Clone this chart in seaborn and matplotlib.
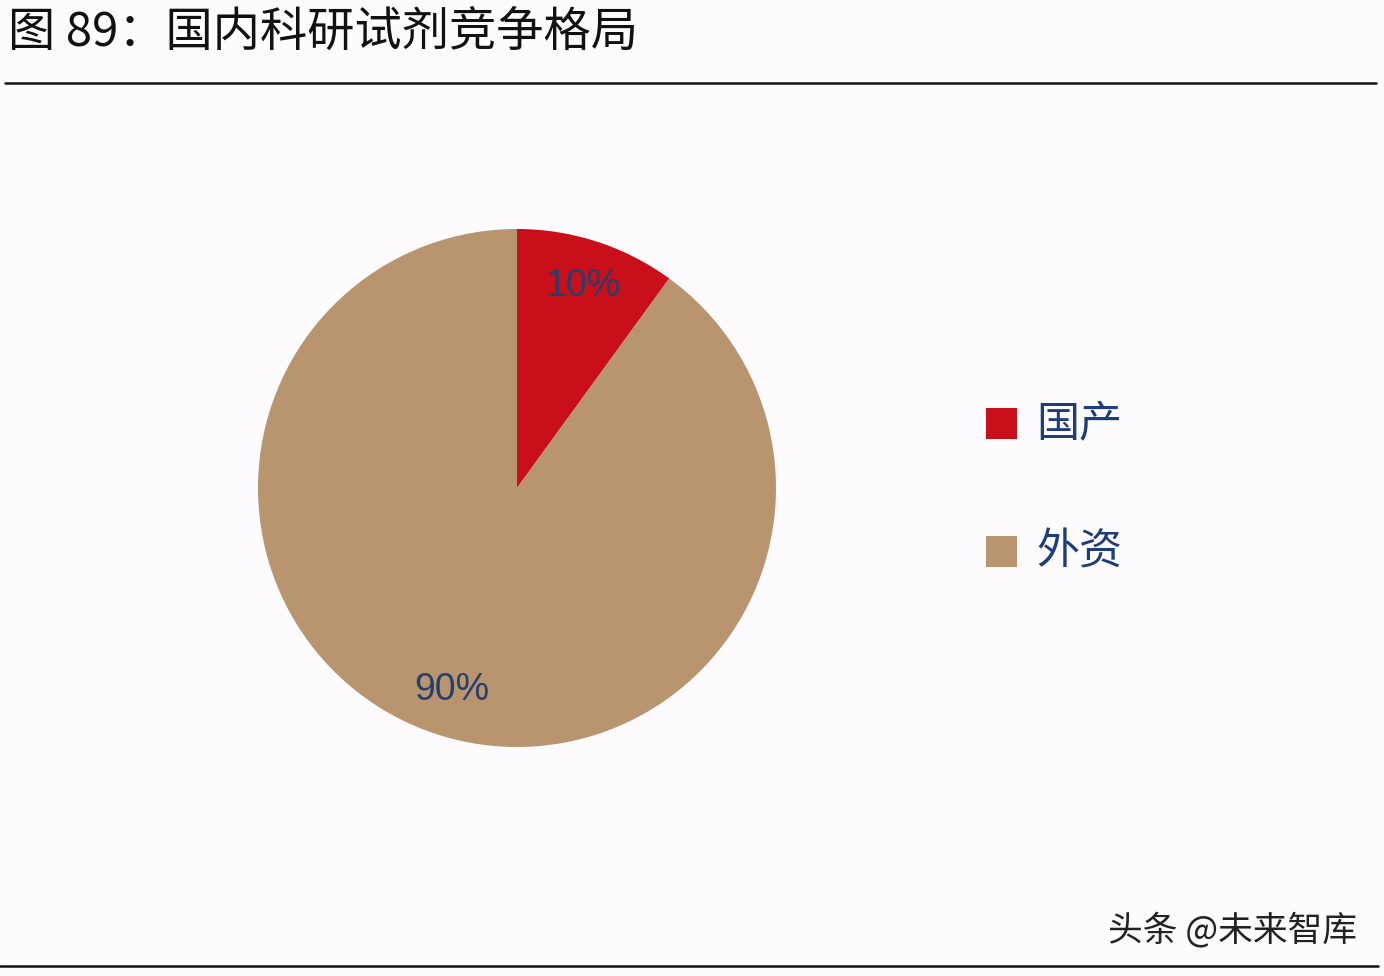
import matplotlib
matplotlib.use("Agg")
import matplotlib.pyplot as plt
import seaborn as sns
from matplotlib.patches import Rectangle
from matplotlib.lines import Line2D

categories = ["国产", "外资"]
shares = [10, 90]
title_text = "图 89：国内科研试剂竞争格局"
watermark = "头条 @未来智库"

sns.set_theme(style="white")
plt.rcParams['font.family'] = ['Noto Sans CJK SC', 'DejaVu Sans']

colors = ["#C80F1A", "#B8956F"]
bg = "#FDFBFD"
W, H = 1384, 976
fig = plt.figure(figsize=(W / 100, H / 100), dpi=100, facecolor=bg)
ax = fig.add_axes([0, 0, 1, 1])
ax.set_facecolor(bg)

wedges, texts, autotexts = ax.pie(
    shares, colors=colors, startangle=90, counterclock=False,
    center=(517, H - 488), radius=259, frame=True,
    autopct=lambda p: f"{p:.0f}%", pctdistance=0.82,
    textprops=dict(fontsize=27, color="#24406E", family="Liberation Sans"),
    wedgeprops=dict(linewidth=0),
)
ax.set_xlim(0, W)
ax.set_ylim(0, H)
ax.set_aspect("equal")
ax.axis("off")

# title and rules
ax.text(8, H - 33, title_text, fontsize=34, color="#111111", va="center", ha="left")
ax.add_line(Line2D([5, 1376], [H - 83, H - 83], color="#111111", lw=1.8))
ax.add_line(Line2D([0, 1378], [H - 966, H - 966], color="#111111", lw=1.8))

# legend
leg_y = [424, 552]
for cat, col, y in zip(categories, colors, leg_y):
    ax.add_patch(Rectangle((986, H - y - 15), 31, 31, facecolor=col, edgecolor="none"))
    ax.text(1036, H - y, cat, fontsize=31, color="#1F3D7A", va="center", ha="left")

ax.text(1357, H - 930, watermark, fontsize=25, color="#222222", va="center", ha="right")

fig.savefig("out.png", dpi=100, facecolor=bg)
